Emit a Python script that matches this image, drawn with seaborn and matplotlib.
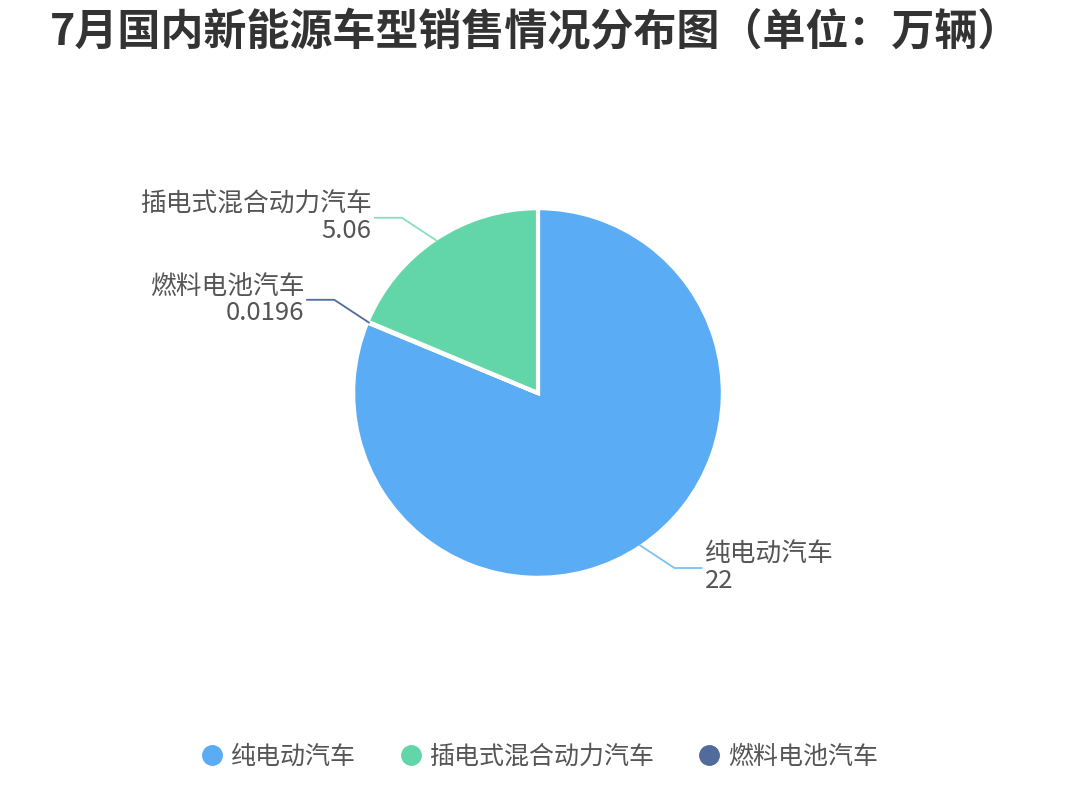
import numpy as np
import seaborn as sns
import matplotlib.pyplot as plt
from matplotlib.lines import Line2D

# data (万辆)
names = ['纯电动汽车', '插电式混合动力汽车', '燃料电池汽车']
values = [22, 5.06, 0.0196]
value_labels = ['22', '5.06', '0.0196']
colors = ['#5aacf4', '#62d6a9', '#516b9a']
line_colors = ['#7cc0f6', '#86e0bd', '#516b9a']

# drawing order around the pie (clockwise from 12 o'clock)
draw_order = [0, 2, 1]

sns.set_style('white')
plt.rcParams['font.family'] = ['Noto Sans CJK SC', 'DejaVu Sans']

fig = plt.figure(figsize=(10.8, 7.86), dpi=100)
ax = fig.add_axes([538/1080 - 915/2/1080, (786-393)/786 - 732/2/786, 915/1080, 732/786])

wedges, _ = ax.pie([values[i] for i in draw_order],
                   colors=[colors[i] for i in draw_order],
                   radius=1.01,
                   startangle=90, counterclock=False,
                   wedgeprops={'edgecolor': 'white', 'linewidth': 3})
ax.set_xlim(-2.5, 2.5)
ax.set_ylim(-2.0, 2.0)
ax.set_aspect('auto')

#leader lines + labels
for w, i in zip(wedges, draw_order):
    mid = np.deg2rad((w.theta1 + w.theta2) / 2)
    c, s = np.cos(mid), np.sin(mid)
    side = 1 if c >= 0 else -1
    up = 1 if s >= 0 else -1
    x0, y0 = c * 1.0, s * 1.0
    x1, y1 = x0 + side * 0.19, y0 + up * 0.125
    x2 = x1 + side * 0.15
    ax.plot([x0, x1, x2], [y0, y1, y1], color=line_colors[i], lw=1.3,
            solid_capstyle='round')
    ax.text(x2 + side * 0.015, y1, names[i] + '\n' + value_labels[i],
            ha='left' if side > 0 else 'right', va='center',
            fontsize=18.5, color='#555555', linespacing=1.0,
            multialignment='left' if side > 0 else 'right')

fig.text(50/1080, 1 - 32/786, '7月国内新能源车型销售情况分布图（单位：万辆）',
         fontsize=31, fontweight='bold', color='#333333', va='center', ha='left')

handles = [Line2D([0], [0], marker='o', linestyle='', markersize=14,
                  markerfacecolor=colors[i], markeredgecolor=colors[i])
           for i in range(3)]
fig.legend(handles, names, loc='center', bbox_to_anchor=(0.5, 1 - 757/786),
           ncol=3, frameon=False, fontsize=18, labelcolor='#555555',
           handlelength=0.8, handletextpad=0.35, columnspacing=1.8)

plt.savefig('out.png', dpi=100)
